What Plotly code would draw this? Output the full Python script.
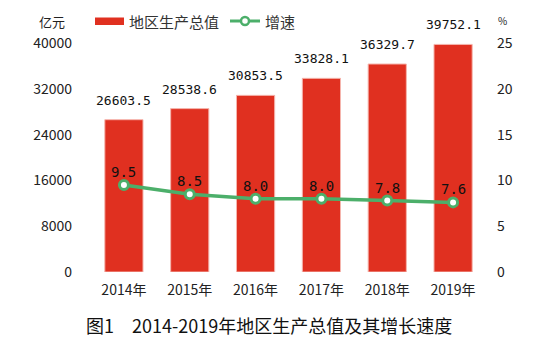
import plotly.graph_objects as go

years = ["2014年", "2015年", "2016年", "2017年", "2018年", "2019年"]
gdp = [26603.5, 28538.6, 30853.5, 33828.1, 36329.7, 39752.1]
growth = [9.5, 8.5, 8.0, 8.0, 7.8, 7.6]
gdp_labels = ["26603.5", "28538.6", "30853.5", "33828.1", "36329.7", "39752.1"]
growth_labels = ["9.5", "8.5", "8.0", "8.0", "7.8", "7.6"]
left_ticks = [0, 8000, 16000, 24000, 32000, 40000]
left_tick_text = ["0", "8000", "16000", "24000", "32000", "40000"]
right_ticks = [0, 5, 10, 15, 20, 25]

RED = "#e03020"
GREEN = "#4caf6a"
FONT = "Noto Sans CJK SC"

W, H = 550, 343
L, R, T, B = 91, 486, 43, 272


def px(p):
    return (p - L) / (R - L)


def py(p):
    return (B - p) / (B - T)


fig = go.Figure()
fig.add_trace(go.Bar(
    x=years, y=gdp, marker=dict(color=RED, line=dict(color="#f5b5ad", width=1)),
    showlegend=False, yaxis="y"))
fig.add_trace(go.Scatter(
    x=years, y=growth, mode="lines+markers", yaxis="y2",
    line=dict(color=GREEN, width=3.5),
    marker=dict(size=9, color="white", line=dict(color=GREEN, width=3)),
    showlegend=False, cliponaxis=False))

for yr, v, t in zip(years, gdp, gdp_labels):
    fig.add_annotation(x=yr, y=v, xref="x", yref="y", text=t, showarrow=False,
                       yanchor="bottom", yshift=10,
                       font=dict(family="DejaVu Sans Mono", size=13, color="#111"))
for yr, v, t in zip(years, growth, growth_labels):
    fig.add_annotation(x=yr, y=v, xref="x", yref="y2", text=t, showarrow=False,
                       yanchor="bottom", yshift=3,
                       font=dict(family="DejaVu Sans Mono", size=14, color="#111"))

fig.update_layout(
    width=W, height=H, margin=dict(l=L, r=W - R, t=T, b=H - B),
    paper_bgcolor="white", plot_bgcolor="white",
    bargap=0.42,
    font=dict(family=FONT, size=13, color="#222"),
    xaxis=dict(showgrid=False, showline=False, ticks="", tickfont=dict(size=14, color="#222"),
               ticklabelstandoff=8),
    yaxis=dict(range=[0, 40000], tickvals=left_ticks, ticktext=left_tick_text,
               showgrid=False, zeroline=False,
               showline=False, ticks="", tickfont=dict(size=14, color="#222"),
               ticklabelstandoff=18),
    yaxis2=dict(range=[0, 25], tickvals=right_ticks, overlaying="y", side="right",
                showgrid=False, zeroline=False, showline=False, ticks="",
                tickfont=dict(size=14, color="#222"), ticklabelstandoff=10),
)

# legend and unit labels
fig.add_shape(type="rect", xref="paper", yref="paper", x0=px(95), x1=px(124), y0=py(25), y1=py(17.5),
              fillcolor=RED, line=dict(width=0))
fig.add_annotation(xref="paper", yref="paper", x=px(127), y=py(21), text="地区生产总值",
                   showarrow=False, xanchor="left", yanchor="middle",
                   font=dict(family=FONT, size=15, color="#333"))
fig.add_shape(type="line", xref="paper", yref="paper", x0=px(230), x1=px(260), y0=py(21), y1=py(21),
              line=dict(color=GREEN, width=3))
fig.add_shape(type="circle", xref="paper", yref="paper", x0=px(241), x1=px(249), y0=py(25), y1=py(17),
              fillcolor="white", line=dict(color=GREEN, width=2.5))
fig.add_annotation(xref="paper", yref="paper", x=px(263), y=py(21), text="增速",
                   showarrow=False, xanchor="left", yanchor="middle",
                   font=dict(family=FONT, size=15, color="#333"))
fig.add_annotation(xref="paper", yref="paper", x=px(52), y=py(21), text="亿元",
                   showarrow=False, xanchor="center", yanchor="middle",
                   font=dict(family=FONT, size=13, color="#222"))
fig.add_annotation(xref="paper", yref="paper", x=px(502), y=py(20), text="%",
                   showarrow=False, xanchor="center", yanchor="middle",
                   font=dict(family=FONT, size=10, color="#222"))
fig.add_annotation(xref="paper", yref="paper", x=px(84), y=py(325),
                   text="图1　2014-2019年地区生产总值及其增长速度",
                   showarrow=False, xanchor="left", yanchor="middle",
                   font=dict(family=FONT, size=18, color="#111"))

fig.write_html("out.html")
